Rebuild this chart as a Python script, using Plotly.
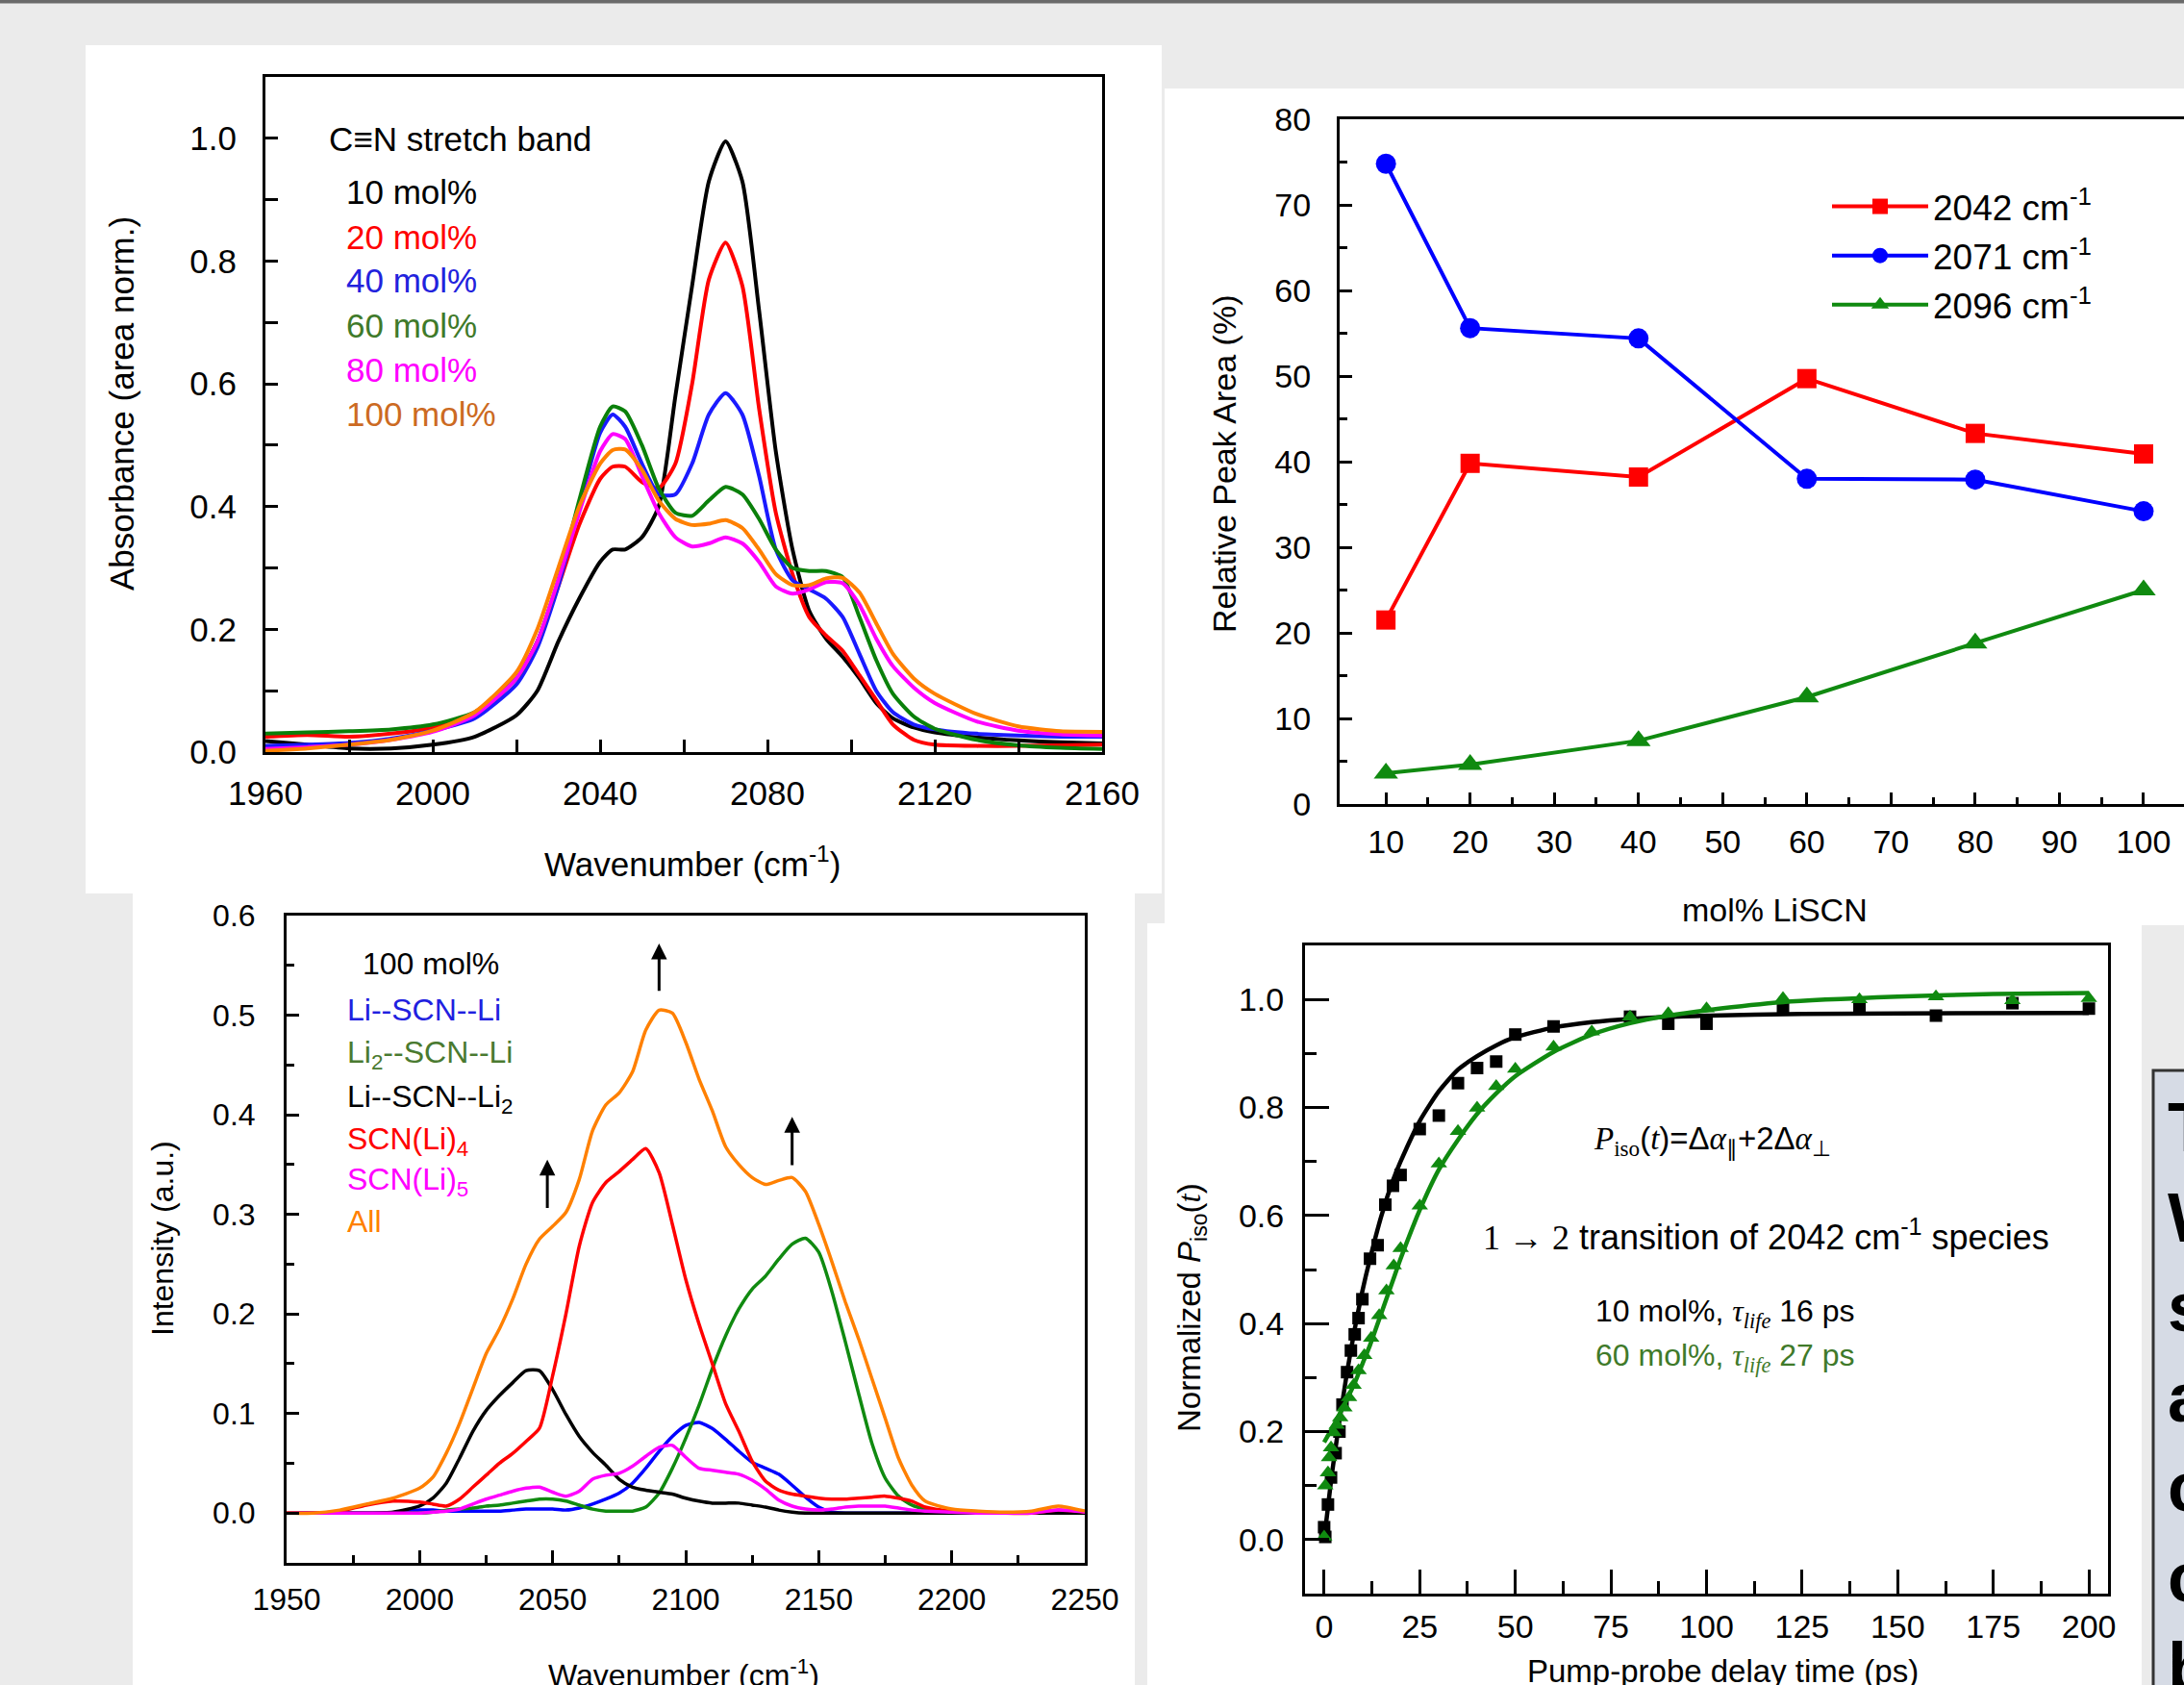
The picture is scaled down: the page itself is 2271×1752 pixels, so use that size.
import plotly.graph_objects as go

W, H = 2271, 1752
def px(x): return x / W
def py(y): return 1 - y / H

SANS = "Liberation Sans, Arial, Helvetica, sans-serif"
SERIF = "Liberation Serif, Times New Roman, serif"

# ---------------- Panel A: C≡N stretch band, area normalised ----------------
a_wn = [1960, 1970, 1980, 1990, 2000, 2010, 2020, 2025, 2030, 2035, 2040, 2043, 2046, 2050,
        2054, 2058, 2062, 2066, 2070, 2074, 2078, 2082, 2086, 2090, 2094, 2098, 2102, 2106,
        2110, 2115, 2120, 2130, 2140, 2150, 2160]
a_10 = [0.018, 0.012, 0.006, 0.006, 0.012, 0.025, 0.06, 0.10, 0.18, 0.25, 0.31, 0.33, 0.33, 0.35,
        0.40, 0.58, 0.76, 0.93, 0.995, 0.93, 0.72, 0.49, 0.33, 0.23, 0.185, 0.155, 0.12, 0.08,
        0.055, 0.04, 0.032, 0.024, 0.019, 0.016, 0.014]
a_20 = [0.025, 0.028, 0.025, 0.03, 0.04, 0.06, 0.12, 0.18, 0.27, 0.37, 0.445, 0.465, 0.465, 0.44,
        0.43, 0.47, 0.60, 0.77, 0.83, 0.76, 0.56, 0.39, 0.29, 0.22, 0.19, 0.165, 0.125, 0.085,
        0.045, 0.02, 0.012, 0.01, 0.01, 0.011, 0.012]
a_40 = [0.01, 0.012, 0.015, 0.022, 0.035, 0.055, 0.11, 0.17, 0.27, 0.40, 0.52, 0.55, 0.53, 0.47,
        0.42, 0.42, 0.47, 0.55, 0.585, 0.55, 0.45, 0.33, 0.28, 0.265, 0.25, 0.22, 0.16, 0.10,
        0.065, 0.045, 0.037, 0.03, 0.027, 0.025, 0.025]
a_60 = [0.03, 0.032, 0.034, 0.037, 0.045, 0.065, 0.12, 0.18, 0.28, 0.41, 0.53, 0.563, 0.555, 0.50,
        0.43, 0.39, 0.385, 0.41, 0.432, 0.42, 0.38, 0.33, 0.30, 0.295, 0.295, 0.285, 0.22, 0.15,
        0.095, 0.058, 0.038, 0.02, 0.011, 0.007, 0.005]
a_80 = [0.005, 0.008, 0.012, 0.02, 0.033, 0.06, 0.12, 0.18, 0.28, 0.39, 0.49, 0.518, 0.51, 0.45,
        0.39, 0.35, 0.335, 0.34, 0.35, 0.34, 0.31, 0.27, 0.258, 0.265, 0.277, 0.275, 0.24, 0.185,
        0.14, 0.105, 0.08, 0.05, 0.035, 0.029, 0.027]
a_100 = [0.002, 0.006, 0.012, 0.02, 0.035, 0.065, 0.13, 0.20, 0.30, 0.40, 0.47, 0.492, 0.493, 0.46,
         0.41, 0.38, 0.37, 0.372, 0.378, 0.365, 0.33, 0.29, 0.272, 0.272, 0.283, 0.284, 0.26, 0.21,
         0.16, 0.12, 0.095, 0.062, 0.042, 0.034, 0.033]
a_labels = ["10 mol%", "20 mol%", "40 mol%", "60 mol%", "80 mol%", "100 mol%"]
a_colors = ["#000000", "#ff0000", "#1a1aff", "#0a800a", "#ff00ff", "#ff8000"]
a_textcolors = ["#000000", "#ff0000", "#2222dd", "#3f7a2a", "#ff00ff", "#cc6a22"]

# ---------------- Panel B: relative peak areas ----------------
b_mol = [10, 20, 40, 60, 80, 100]
b_2042 = [21.5, 39.8, 38.2, 49.7, 43.3, 40.9]
b_2071 = [74.8, 55.6, 54.4, 38.0, 37.9, 34.2]
b_2096 = [3.6, 4.6, 7.4, 12.5, 18.8, 25.0]

# ---------------- Panel C: 100 mol% decomposition ----------------
c_wn = [1950, 1960, 1970, 1980, 1990, 2000, 2005, 2010, 2015, 2020, 2025, 2030, 2035, 2040, 2045,
        2050, 2055, 2060, 2065, 2070, 2075, 2080, 2085, 2090, 2095, 2100, 2105, 2110, 2115, 2120,
        2125, 2130, 2135, 2140, 2145, 2150, 2155, 2160, 2165, 2170, 2175, 2180, 2185, 2190, 2200,
        2210, 2220, 2230, 2240, 2250]
c_all = [0.0, 0.0, 0.003, 0.009, 0.015, 0.025, 0.036, 0.06, 0.09, 0.125, 0.16, 0.185, 0.215, 0.25, 0.275,
         0.288, 0.302, 0.335, 0.384, 0.41, 0.422, 0.443, 0.485, 0.505, 0.502, 0.473, 0.436, 0.404, 0.368, 0.35,
         0.337, 0.33, 0.334, 0.337, 0.323, 0.29, 0.252, 0.212, 0.175, 0.135, 0.095, 0.055, 0.028, 0.012, 0.004,
         0.002, 0.001, 0.002, 0.007, 0.002]
c_li4 = [0.0, 0.0, 0.002, 0.008, 0.012, 0.011, 0.009, 0.007, 0.014, 0.026, 0.038, 0.05, 0.06, 0.072, 0.085,
         0.138, 0.20, 0.268, 0.312, 0.332, 0.343, 0.355, 0.366, 0.342, 0.29, 0.235, 0.19, 0.15, 0.11, 0.082,
         0.052, 0.032, 0.023, 0.019, 0.017, 0.015, 0.014, 0.014, 0.015, 0.016, 0.017, 0.015, 0.012, 0.006, 0.002,
         0.001, 0.0, 0.0, 0.003, 0.001]
c_li2li = [0.0, 0.0, 0.0, 0.0, 0.0, 0.0, 0.001, 0.003, 0.004, 0.005, 0.007, 0.008, 0.01, 0.012, 0.014,
           0.014, 0.012, 0.008, 0.004, 0.002, 0.002, 0.002, 0.006, 0.02, 0.045, 0.075, 0.108, 0.145, 0.178, 0.205,
           0.225, 0.238, 0.255, 0.27, 0.276, 0.262, 0.222, 0.172, 0.12, 0.07, 0.035, 0.017, 0.008, 0.004, 0.001,
           0.0, 0.0, 0.0, 0.0, 0.0]
c_lili2 = [0.0, 0.0, 0.0, 0.0, 0.001, 0.007, 0.015, 0.03, 0.055, 0.082, 0.103, 0.118, 0.131, 0.143, 0.143,
           0.124, 0.099, 0.077, 0.061, 0.048, 0.034, 0.026, 0.023, 0.021, 0.019, 0.015, 0.012, 0.01, 0.01, 0.01,
           0.008, 0.006, 0.003, 0.001, 0.0, 0.0, 0.0, 0.0, 0.0, 0.0, 0.0, 0.0, 0.0, 0.0, 0.0,
           0.0, 0.0, 0.0, 0.0, 0.0]
c_lili = [0.0, 0.0, 0.0, 0.0, 0.0, 0.003, 0.003, 0.002, 0.002, 0.002, 0.002, 0.002, 0.003, 0.004, 0.004,
          0.004, 0.003, 0.005, 0.009, 0.014, 0.02, 0.03, 0.045, 0.062, 0.077, 0.088, 0.091, 0.085, 0.074, 0.062,
          0.051, 0.045, 0.039, 0.028, 0.016, 0.006, 0.001, 0.0, 0.0, 0.0, 0.0, 0.0, 0.0, 0.0, 0.0,
          0.0, 0.0, 0.0, 0.0, 0.0]
c_li5 = [0.0, 0.0, 0.0, 0.0, 0.0, 0.0, 0.001, 0.002, 0.004, 0.009, 0.014, 0.018, 0.022, 0.025, 0.026,
         0.021, 0.017, 0.022, 0.034, 0.038, 0.04, 0.047, 0.057, 0.066, 0.068, 0.056, 0.045, 0.043, 0.041, 0.039,
         0.033, 0.024, 0.013, 0.007, 0.004, 0.003, 0.004, 0.006, 0.007, 0.007, 0.007, 0.005, 0.003, 0.002, 0.001,
         0.0, 0.0, 0.0, 0.003, 0.001]
c_arrow_x = [2048, 2090, 2140]
c_arrow_y0 = [0.305, 0.523, 0.348]
c_arrow_y1 = [0.355, 0.572, 0.398]

# ---------------- Panel D: isotropic pump-probe ----------------
d_t10 = [0, 0.3, 1, 1.8, 3, 4, 4.8, 6, 7, 8, 9, 10, 12, 14, 16, 18, 20, 25, 30, 35, 40, 45, 50,
         60, 80, 90, 100, 120, 140, 160, 180, 200]
d_p10 = [0.023, 0.005, 0.065, 0.115, 0.16, 0.20, 0.25, 0.31, 0.35, 0.38, 0.41, 0.445, 0.52, 0.545, 0.62,
         0.655, 0.675, 0.76, 0.785, 0.845, 0.873, 0.885, 0.935, 0.95, 0.968, 0.955, 0.955, 0.982, 0.982,
         0.97, 0.993, 0.983]
d_t60 = [0, 0.3, 1, 1.3, 1.8, 2.5, 3.3, 4.2, 5.3, 6.5, 7.7, 9, 10.5, 12.3, 14.4, 16.3, 18.2, 20, 25, 30,
         35, 40, 45, 50, 60, 70, 80, 90, 100, 120, 140, 160, 180, 200]
d_p60 = [0.005, 0.10, 0.124, 0.152, 0.17, 0.198, 0.212, 0.226, 0.244, 0.263, 0.286, 0.313, 0.341, 0.373,
         0.415, 0.461, 0.507, 0.539, 0.618, 0.696, 0.756, 0.799, 0.839, 0.871, 0.912, 0.94, 0.968, 0.974,
         0.983, 1.002, 1.0, 1.005, 0.998, 1.002]
d_fit10_t = [0, 1, 2, 3, 4, 5, 6, 8, 10, 12, 15, 18, 20, 25, 30, 35, 40, 45, 50, 60, 70, 80, 100, 125, 150, 200]
d_fit10_p = [0.0, 0.06, 0.12, 0.17, 0.22, 0.265, 0.31, 0.39, 0.46, 0.52, 0.60, 0.665, 0.70, 0.775, 0.83,
             0.87, 0.895, 0.915, 0.93, 0.948, 0.958, 0.964, 0.97, 0.973, 0.974, 0.975]
d_fit60_t = [0, 2, 4, 6, 8, 10, 12, 15, 18, 20, 25, 30, 35, 40, 45, 50, 60, 70, 80, 90, 100, 120, 150, 175, 200]
d_fit60_p = [0.18, 0.205, 0.232, 0.26, 0.29, 0.325, 0.36, 0.42, 0.48, 0.52, 0.61, 0.685, 0.74, 0.788, 0.826,
             0.858, 0.903, 0.935, 0.956, 0.97, 0.98, 0.995, 1.005, 1.01, 1.012]

# cropped neighbouring text box (first letters of its lines)
side_letters = ["T", "W", "s", "a", "c", "c", "b"]

# =====================================================================
fig = go.Figure()

for lab, ys, col in zip(a_labels, [a_10, a_20, a_40, a_60, a_80, a_100], a_colors):
    fig.add_trace(go.Scatter(x=a_wn, y=ys, mode="lines", name=lab, showlegend=False,
                             line=dict(color=col, width=4, shape="spline", smoothing=0.6),
                             xaxis="x", yaxis="y"))

fig.add_trace(go.Scatter(x=b_mol, y=b_2042, mode="lines+markers", name="2042 cm<sup>-1</sup>",
                         line=dict(color="#ff0000", width=4),
                         marker=dict(symbol="square", size=20, color="#ff0000"),
                         xaxis="x2", yaxis="y2"))
fig.add_trace(go.Scatter(x=b_mol, y=b_2071, mode="lines+markers", name="2071 cm<sup>-1</sup>",
                         line=dict(color="#0000ff", width=4),
                         marker=dict(symbol="circle", size=21, color="#0000ff"),
                         xaxis="x2", yaxis="y2"))
fig.add_trace(go.Scatter(x=b_mol, y=b_2096, mode="lines+markers", name="2096 cm<sup>-1</sup>",
                         line=dict(color="#108a10", width=4),
                         marker=dict(symbol="triangle-up", size=22, color="#108a10"),
                         xaxis="x2", yaxis="y2"))

c_series = [("Li--SCN--Li", c_lili, "#0000ff"), ("Li2--SCN--Li", c_li2li, "#108a10"),
            ("Li--SCN--Li2", c_lili2, "#000000"), ("SCN(Li)4", c_li4, "#ff0000"),
            ("SCN(Li)5", c_li5, "#ff00ff"), ("All", c_all, "#ff8000")]
for lab, ys, col in c_series:
    fig.add_trace(go.Scatter(x=c_wn, y=ys, mode="lines", name=lab, showlegend=False,
                             line=dict(color=col, width=3.5, shape="spline", smoothing=0.6),
                             xaxis="x3", yaxis="y3"))

fig.add_trace(go.Scatter(x=d_t10, y=d_p10, mode="markers", name="10 mol%", showlegend=False,
                         marker=dict(symbol="square", size=13, color="black"), xaxis="x4", yaxis="y4"))
fig.add_trace(go.Scatter(x=d_fit10_t, y=d_fit10_p, mode="lines", showlegend=False,
                         line=dict(color="black", width=4.5, shape="spline", smoothing=0.6),
                         xaxis="x4", yaxis="y4"))
fig.add_trace(go.Scatter(x=d_t60, y=d_p60, mode="markers", name="60 mol%", showlegend=False,
                         marker=dict(symbol="triangle-up", size=15, color="#108a10"), xaxis="x4", yaxis="y4"))
fig.add_trace(go.Scatter(x=d_fit60_t, y=d_fit60_p, mode="lines", showlegend=False,
                         line=dict(color="#108a10", width=4.5, shape="spline", smoothing=0.6),
                         xaxis="x4", yaxis="y4"))


def axis(p0, p1, horiz, rng, anchor, size, standoff, ticklen, minorlen, mirror=True,
         tickvals=None, dtick=None, tick0=None, minor_dtick=None, minor_vals=None, fmt=None):
    d = dict(domain=[px(p0), px(p1)] if horiz else [py(p1), py(p0)], range=rng, anchor=anchor,
             showline=True, linecolor="black", linewidth=3, mirror=mirror, automargin=False,
             ticks="inside", ticklen=ticklen, tickwidth=2.5, tickcolor="black",
             showgrid=False, zeroline=False, fixedrange=True,
             tickfont=dict(family=SANS, size=size, color="black"),
             ticklabelstandoff=standoff)
    if tickvals is not None:
        d["tickvals"] = tickvals
    else:
        d["dtick"] = dtick
        d["tick0"] = tick0
    if fmt:
        d["tickformat"] = fmt
    m = dict(ticks="inside", ticklen=minorlen, tickwidth=2.5, tickcolor="black", showgrid=False)
    if minor_vals is not None:
        m["tickvals"] = minor_vals
    elif minor_dtick is not None:
        m["dtick"] = minor_dtick
        m["tick0"] = tick0 if tick0 is not None else 0
    d["minor"] = m
    return d


layout = dict(
    width=W, height=H, margin=dict(l=0, r=0, t=0, b=0, pad=0, autoexpand=False),
    paper_bgcolor="#ebebeb", plot_bgcolor="white",
    font=dict(family=SANS, color="black"),
    xaxis=axis(276, 1146, True, [1960, 2160], "y", 35, 10, 13, 13,
               tickvals=[1960, 2000, 2040, 2080, 2120, 2160], minor_dtick=20, tick0=1960),
    yaxis=axis(80, 782, False, [0, 1.1], "x", 35, 20, 13, 13,
               tickvals=[0, 0.2, 0.4, 0.6, 0.8, 1.0], minor_dtick=0.1, tick0=0, fmt=".1f"),
    xaxis2=axis(1393, 2271, True, [4.5, 104.8], "y2", 34, 7, 12, 7,
                tickvals=list(range(10, 101, 10)), minor_vals=list(range(15, 100, 10))),
    yaxis2=axis(124, 836, False, [0, 80], "x2", 34, 20, 13, 8, mirror=False,
                dtick=10, tick0=0, minor_dtick=5),
    xaxis3=axis(298, 1128, True, [1950, 2250], "y3", 32, 8, 13, 8,
                dtick=50, tick0=1950, minor_dtick=25),
    yaxis3=axis(952, 1625, False, [-0.05, 0.6], "x3", 32, 23, 13, 8,
                tickvals=[0, 0.1, 0.2, 0.3, 0.4, 0.5, 0.6], minor_dtick=0.05, tick0=0, fmt=".1f"),
    xaxis4=axis(1357, 2192, True, [-5, 205], "y4", 34, 2, 25, 13,
                dtick=25, tick0=0, minor_dtick=12.5),
    yaxis4=axis(983, 1657, False, [-0.1, 1.1], "x4", 34, 12, 25, 12,
                tickvals=[0, 0.2, 0.4, 0.6, 0.8, 1.0], minor_dtick=0.1, tick0=0, fmt=".1f"),
    legend=dict(x=px(1900), y=py(184), xanchor="left", yanchor="top",
                font=dict(family=SANS, size=37, color="black"), bgcolor="rgba(0,0,0,0)",
                tracegroupgap=0, itemsizing="trace", itemwidth=100),
    showlegend=True,
)

shapes = [
    dict(type="rect", xref="paper", yref="paper", x0=0, x1=1, y0=py(0), y1=py(3.5),
         fillcolor="#6a6a6a", line_width=0, layer="below"),
    dict(type="rect", xref="paper", yref="paper", x0=px(89), x1=px(1208), y0=py(47), y1=py(929),
         fillcolor="white", line_width=0, layer="below"),
    dict(type="rect", xref="paper", yref="paper", x0=px(1211), x1=1, y0=py(92), y1=py(962),
         fillcolor="white", line_width=0, layer="below"),
    dict(type="rect", xref="paper", yref="paper", x0=px(138), x1=px(1180), y0=py(927), y1=0,
         fillcolor="white", line_width=0, layer="below"),
    dict(type="rect", xref="paper", yref="paper", x0=px(1193), x1=px(2227), y0=py(960), y1=0,
         fillcolor="white", line_width=0, layer="below"),
    dict(type="rect", xref="paper", yref="paper", x0=px(2239), x1=px(2290), y0=py(1113), y1=py(1770),
         fillcolor="#d6dbe5", line=dict(color="#333333", width=3), layer="below"),
]

ann = []
def text(x, y, s, size, color="black", xanchor="left", angle=0, family=SANS):
    ann.append(dict(x=px(x), y=py(y), xref="paper", yref="paper", text=s, showarrow=False,
                    xanchor=xanchor, yanchor="middle", textangle=angle,
                    font=dict(family=family, size=size, color=color)))

# Panel A labels
text(340, 144, "C≡N stretch band", 35)
for i, (lab, col) in enumerate(zip(a_labels, a_textcolors)):
    text(358, 200 + i * 46, lab, 35, col)
text(127, 420, "Absorbance (area norm.)", 35, xanchor="center", angle=-90)
text(720, 896, "Wavenumber (cm<sup>-1</sup>)", 35, xanchor="center")

# Panel B labels
text(1273, 482, "Relative Peak Area (%)", 34, xanchor="center", angle=-90)
text(1845, 946, "mol% LiSCN", 34, xanchor="center")

# Panel C labels
text(375, 1002, "100 mol%", 32)
c_text = [("Li--SCN--Li", "#2020e0"), ("Li<sub>2</sub>--SCN--Li", "#4a7a30"),
          ("Li--SCN--Li<sub>2</sub>", "#000000"), ("SCN(Li)<sub>4</sub>", "#ff0000"),
          ("SCN(Li)<sub>5</sub>", "#ff00ff"), ("All", "#ff8000")]
c_text_y = [1050, 1096, 1142, 1186, 1228, 1270]
for (s, col), yy in zip(c_text, c_text_y):
    text(359, yy, s, 32, col)
text(169, 1288, "Intensity (a.u.)", 32, xanchor="center", angle=-90)
text(711, 1740, "Wavenumber (cm<sup>-1</sup>)", 32, xanchor="center")
for xa, y0, y1 in zip(c_arrow_x, c_arrow_y0, c_arrow_y1):
    ann.append(dict(x=xa, y=y1, ax=xa, ay=y0, xref="x3", yref="y3", axref="x3", ayref="y3",
                    text="", showarrow=True, arrowhead=2, arrowsize=1.1, arrowwidth=3,
                    arrowcolor="black"))

# Panel D labels
serif_i = lambda s: f"<span style='font-family:{SERIF}'><i>{s}</i></span>"
formula = (serif_i("P") + f"<span style='font-family:{SERIF}'><sub>iso</sub></span>(" + serif_i("t") +
           ")=Δ" + serif_i("α") + "<sub>∥</sub>+2Δ" + serif_i("α") + "<sub>⊥</sub>")
text(1655, 1186, formula, 33)
text(1540, 1284, f"<span style='font-family:{SERIF}'>1 → 2</span> transition of 2042 cm<sup>-1</sup> species", 36)
tau = serif_i("τ") + f"<span style='font-family:{SERIF}'><sub><i>life</i></sub></span>"
text(1657, 1365, "10 mol%, " + tau + " 16 ps", 32)
text(1657, 1411, "60 mol%, " + tau + " 27 ps", 32, color="#3f7a2a")
text(1239, 1360, "Normalized <i>P</i><sub>iso</sub>(" + serif_i("t") + ")", 33, xanchor="center", angle=-90)
text(1791, 1737, "Pump-probe delay time (ps)", 33, xanchor="center")

# Right-hand cropped text box: one block of lines
ann.append(dict(x=px(2252), y=py(1130), xref="paper", yref="paper",
                text="<br>".join(f"<b>{ch}</b>" for ch in side_letters), showarrow=False,
                xanchor="left", yanchor="top", align="left",
                font=dict(family=SANS, size=72, color="black")))

layout["shapes"] = shapes
layout["annotations"] = ann
fig.update_layout(**layout)
fig.write_html("out.html")
